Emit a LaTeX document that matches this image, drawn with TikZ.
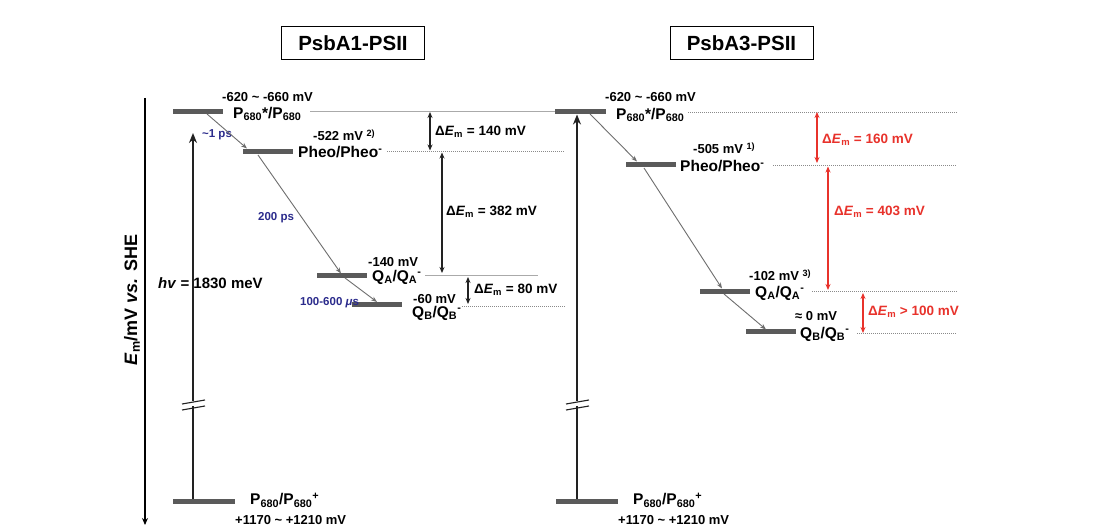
\documentclass[tikz,border=0pt]{standalone}
\usepackage{fontspec}
\setmainfont{Liberation Sans}
\usetikzlibrary{arrows.meta}
\definecolor{barcol}{HTML}{5A5A5A}
\definecolor{xcol}{HTML}{6E6E6E}
\definecolor{navyc}{HTML}{2B2B8C}
\definecolor{redc}{HTML}{E8322B}
\definecolor{lgrey}{HTML}{AAAAAA}
\definecolor{dgrey}{HTML}{8A8A8A}
\definecolor{darkc}{HTML}{222222}
\newcommand{\fsz}[1]{\fontsize{#1}{#1}\selectfont}
\newcommand{\Pss}{P\textsubscript{680}}
\newcommand{\dEm}{Δ\textit{E}\textsubscript{m}}
\begin{document}
\begin{tikzpicture}[x=1pt,y=-1pt,
  bar/.style={rectangle,fill=barcol,draw=none,inner sep=0pt,minimum height=5pt,minimum width=50pt},
  lvl/.style={font=\bfseries\fsz{15.5},inner sep=0pt,anchor=west},
  mv/.style={font=\bfseries\fsz{13},inner sep=0pt,anchor=west},
  dl/.style={font=\bfseries\fsz{13.5},inner sep=0pt,anchor=west},
  ps/.style={font=\bfseries\fsz{11.5},text=navyc,inner sep=0pt,anchor=west},
  xfer/.style={draw=xcol,line width=0.9pt,-{Stealth[length=6pt,width=4.5pt]}},
  dbl/.style={line width=1.1pt,{Stealth[length=6pt,width=5pt]}-{Stealth[length=6pt,width=5pt]}},
  hvline/.style={draw=darkc,line width=2.4pt},
  brk/.style={draw=darkc,line width=1.1pt},
  solidl/.style={draw=lgrey,line width=1pt},
  dotl/.style={draw=dgrey,line width=0.9pt,dash pattern=on 1pt off 1pt},
  titlebox/.style={draw,line width=1pt,minimum width=143pt,minimum height=33pt,inner sep=0pt,font=\bfseries\fsz{20.5}}
]
\useasboundingbox (0,0) rectangle (1106,526);
\fill[white] (0,0) rectangle (1106,526);

% titles
\node[titlebox] (t1) at (353,43.5) {PsbA1-PSII};
\node[titlebox] (t2) at (741.5,43.5) {PsbA3-PSII};

% axis
\coordinate (ax1) at (145,98);
\coordinate (ax2) at (145,525);
\draw[line width=1.3pt,-{Stealth[length=7pt,width=6pt]}] (ax1) -- (ax2);
\node[rotate=90,font=\bfseries\fsz{18},inner sep=0pt] (ylab) at (132,300) {\textit{E}\textsubscript{m}/mV \textit{vs.} SHE};

% ---------------- left panel ----------------
% level reference lines
\coordinate (Ll1a) at (310,112); \coordinate (Ll1b) at (555,112);
\coordinate (Ll2a) at (387,151); \coordinate (Ll2b) at (565,151);
\coordinate (Ll3a) at (425,276); \coordinate (Ll3b) at (538,276);
\coordinate (Ll4a) at (462,306); \coordinate (Ll4b) at (565,306);
\draw[solidl] (Ll1a) -- (Ll1b);
\draw[dotl] (Ll2a) -- (Ll2b);
\draw[solidl] (Ll3a) -- (Ll3b);
\draw[dotl] (Ll4a) -- (Ll4b);

\node[bar] (Lb1) at (198,112) {};
\node[bar] (Lb2) at (268,152) {};
\node[bar] (Lb3) at (342,276) {};
\node[bar] (Lb4) at (377,304.5) {};
\node[bar,minimum width=62pt] (Lb0) at (204,501) {};

\node[mv] (Lmv1) at (222,97) {-620 \textasciitilde\ -660 mV};
\node[lvl] (LP1) at (233,114) {\Pss*/\Pss};
\node[mv] (Lmv2) at (313,135) {-522 mV \textsuperscript{2)}};
\node[lvl] (Lpheo) at (298,152) {Pheo/Pheo\textsuperscript{-}};
\node[mv] (Lmv3) at (368,262) {-140 mV};
\node[lvl] (Lqa) at (372,277) {Q\textsubscript{A}/Q\textsubscript{A}\textsuperscript{-}};
\node[mv] (Lmv4) at (413,299) {-60 mV};
\node[lvl] (Lqb) at (412,313) {Q\textsubscript{B}/Q\textsubscript{B}\textsuperscript{-}};
\node[lvl] (Lp0) at (250,500) {\Pss/\Pss\textsuperscript{+}};
\node[mv] (Lmv0) at (235,520) {+1170 \textasciitilde\ +1210 mV};

\node[ps] (Lt1) at (202,135) {\textasciitilde1 ps};
\node[ps] (Lt2) at (258,218) {200 ps};
\node[ps] (Lt3) at (300,303) {100-600 \textit{μ}s};

% electron transfer arrows
\coordinate (La1s) at (207,114); \coordinate (La1e) at (247,148.5);
\coordinate (La2s) at (258,155); \coordinate (La2e) at (341,273.5);
\coordinate (La3s) at (345,278); \coordinate (La3e) at (377,302);
\draw[xfer] (La1s) -- (La1e);
\draw[xfer] (La2s) -- (La2e);
\draw[xfer] (La3s) -- (La3e);

% hv arrow with break
\node[font=\bfseries\fsz{15},inner sep=0pt,anchor=west] (Lhv) at (158,283) {\textit{hv} = 1830 meV};
\coordinate (Lh0) at (193,498.5); \coordinate (Lhb1) at (193,406.5);
\coordinate (Lhb2) at (193,401); \coordinate (Lhtop) at (193,133);
\draw[hvline] (Lh0) -- (Lhb1);
\draw[hvline,-{Stealth[length=10pt,width=8pt]}] (Lhb2) -- (Lhtop);
\coordinate (Lk1a) at (182,404); \coordinate (Lk1b) at (205,400);
\coordinate (Lk2a) at (182,410); \coordinate (Lk2b) at (205,406);
\draw[brk] (Lk1a) -- (Lk1b);
\draw[brk] (Lk2a) -- (Lk2b);

% delta E arrows
\coordinate (Ld1a) at (430,112); \coordinate (Ld1b) at (430,150.5);
\coordinate (Ld2a) at (442,152.5); \coordinate (Ld2b) at (442,273);
\coordinate (Ld3a) at (468,277); \coordinate (Ld3b) at (468,304);
\draw[dbl,draw=darkc] (Ld1a) -- (Ld1b);
\draw[dbl,draw=darkc] (Ld2a) -- (Ld2b);
\draw[dbl,draw=darkc] (Ld3a) -- (Ld3b);
\node[dl] (Ldl1) at (435,132) {\dEm{} = 140 mV};
\node[dl] (Ldl2) at (446,212) {\dEm{} = 382 mV};
\node[dl] (Ldl3) at (474,290) {\dEm{} = 80 mV};

% ---------------- right panel ----------------
\coordinate (Rl1a) at (688,112); \coordinate (Rl1b) at (957,112);
\coordinate (Rl2a) at (773,165); \coordinate (Rl2b) at (957,165);
\coordinate (Rl3a) at (812,291); \coordinate (Rl3b) at (957,291);
\coordinate (Rl4a) at (857,333); \coordinate (Rl4b) at (957,333);
\draw[dotl] (Rl1a) -- (Rl1b);
\draw[dotl] (Rl2a) -- (Rl2b);
\draw[dotl] (Rl3a) -- (Rl3b);
\draw[dotl] (Rl4a) -- (Rl4b);

\node[bar,minimum width=51pt] (Rb1) at (580.5,112) {};
\node[bar] (Rb2) at (651,165) {};
\node[bar] (Rb3) at (724.5,292) {};
\node[bar] (Rb4) at (770.5,332) {};
\node[bar,minimum width=62pt] (Rb0) at (587,501) {};

\node[mv] (Rmv1) at (605,97) {-620 \textasciitilde\ -660 mV};
\node[lvl] (RP1) at (616,115) {\Pss*/\Pss};
\node[mv] (Rmv2) at (693,148) {-505 mV \textsuperscript{1)}};
\node[lvl] (Rpheo) at (680,166) {Pheo/Pheo\textsuperscript{-}};
\node[mv] (Rmv3) at (749,275) {-102 mV \textsuperscript{3)}};
\node[lvl] (Rqa) at (755,293) {Q\textsubscript{A}/Q\textsubscript{A}\textsuperscript{-}};
\node[mv] (Rmv4) at (795,316) {≈ 0 mV};
\node[lvl] (Rqb) at (800,334) {Q\textsubscript{B}/Q\textsubscript{B}\textsuperscript{-}};
\node[lvl] (Rp0) at (633,500) {\Pss/\Pss\textsuperscript{+}};
\node[mv] (Rmv0) at (618,520) {+1170 \textasciitilde\ +1210 mV};

\coordinate (Ra1s) at (590,114); \coordinate (Ra1e) at (637,161.5);
\coordinate (Ra2s) at (644,168); \coordinate (Ra2e) at (722,288.5);
\coordinate (Ra3s) at (724,294); \coordinate (Ra3e) at (766,329.5);
\draw[xfer] (Ra1s) -- (Ra1e);
\draw[xfer] (Ra2s) -- (Ra2e);
\draw[xfer] (Ra3s) -- (Ra3e);

\coordinate (Rh0) at (577,498.5); \coordinate (Rhb1) at (577,406.5);
\coordinate (Rhb2) at (577,401); \coordinate (Rhtop) at (577,114.5);
\draw[hvline] (Rh0) -- (Rhb1);
\draw[hvline,-{Stealth[length=10pt,width=8pt]}] (Rhb2) -- (Rhtop);
\coordinate (Rk1a) at (566,404); \coordinate (Rk1b) at (589,400);
\coordinate (Rk2a) at (566,410); \coordinate (Rk2b) at (589,406);
\draw[brk] (Rk1a) -- (Rk1b);
\draw[brk] (Rk2a) -- (Rk2b);

\coordinate (Rd1a) at (817,112); \coordinate (Rd1b) at (817,163);
\coordinate (Rd2a) at (828,166.5); \coordinate (Rd2b) at (828,290);
\coordinate (Rd3a) at (863,293); \coordinate (Rd3b) at (863,333);
\draw[dbl,draw=redc,fill=redc] (Rd1a) -- (Rd1b);
\draw[dbl,draw=redc,fill=redc] (Rd2a) -- (Rd2b);
\draw[dbl,draw=redc,fill=redc] (Rd3a) -- (Rd3b);
\node[dl,text=redc] (Rdl1) at (822,140) {\dEm{} = 160 mV};
\node[dl,text=redc] (Rdl2) at (834,212) {\dEm{} = 403 mV};
\node[dl,text=redc] (Rdl3) at (868,312) {\dEm{} > 100 mV};
\end{tikzpicture}
\end{document}
